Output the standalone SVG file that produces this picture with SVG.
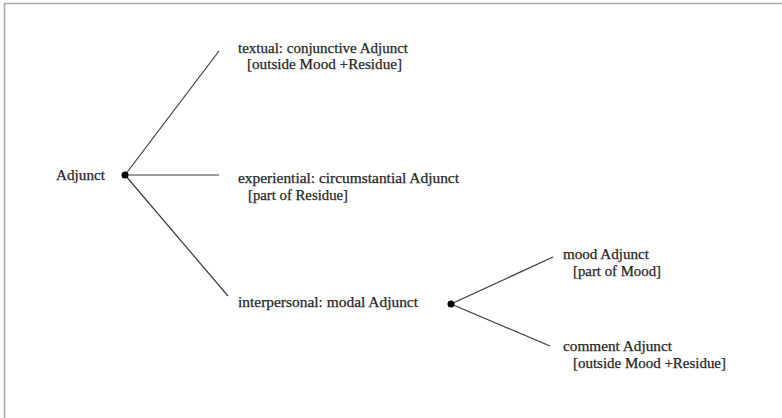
<svg xmlns="http://www.w3.org/2000/svg" width="782" height="418" viewBox="0 0 782 418">
  <style>
    .lbl { font-family: "Liberation Serif", "DejaVu Serif", serif; font-size: 15px; fill: #262626; stroke: #262626; stroke-width: 0.25; }
    .edge { stroke: #3a3a3a; stroke-width: 1.2; fill: none; }
    .dot { fill: #000; }
  </style>
  <rect width="782" height="418" fill="#fff"/>
  <!-- frame: top and left rules only -->
  <path d="M4.5,418 V3.5 H782" fill="none" stroke="#aaa" stroke-width="1.6"/>

  <g id="connectors">
    <line class="edge" x1="125" y1="175" x2="219" y2="51"/>
    <line class="edge" x1="125" y1="175" x2="219" y2="175"/>
    <line class="edge" x1="125" y1="175" x2="228" y2="296"/>
    <line class="edge" x1="451" y1="304" x2="553" y2="257"/>
    <line class="edge" x1="451" y1="304" x2="550" y2="346"/>
  </g>

  <g id="adjunct">
    <text class="lbl" x="56" y="180" textLength="49" lengthAdjust="spacingAndGlyphs">Adjunct</text>
    <circle class="dot" cx="125" cy="175" r="3.5"/>
  </g>
  <g id="textual">
    <text class="lbl" x="238" y="53" textLength="170" lengthAdjust="spacingAndGlyphs">textual: conjunctive Adjunct</text>
    <text class="lbl" x="247" y="69" textLength="155" lengthAdjust="spacingAndGlyphs">[outside Mood +Residue]</text>
  </g>
  <g id="experiential">
    <text class="lbl" x="238" y="183" textLength="221" lengthAdjust="spacingAndGlyphs">experiential: circumstantial Adjunct</text>
    <text class="lbl" x="248" y="200" textLength="100" lengthAdjust="spacingAndGlyphs">[part of Residue]</text>
  </g>
  <g id="interpersonal">
    <text class="lbl" x="238" y="307" textLength="180" lengthAdjust="spacingAndGlyphs">interpersonal: modal Adjunct</text>
    <circle class="dot" cx="451" cy="304" r="3.5"/>
  </g>
  <g id="mood">
    <text class="lbl" x="563" y="259" textLength="86" lengthAdjust="spacingAndGlyphs">mood Adjunct</text>
    <text class="lbl" x="573" y="276" textLength="88" lengthAdjust="spacingAndGlyphs">[part of Mood]</text>
  </g>
  <g id="comment">
    <text class="lbl" x="563" y="351" textLength="109" lengthAdjust="spacingAndGlyphs">comment Adjunct</text>
    <text class="lbl" x="573" y="368" textLength="153" lengthAdjust="spacingAndGlyphs">[outside Mood +Residue]</text>
  </g>
</svg>
